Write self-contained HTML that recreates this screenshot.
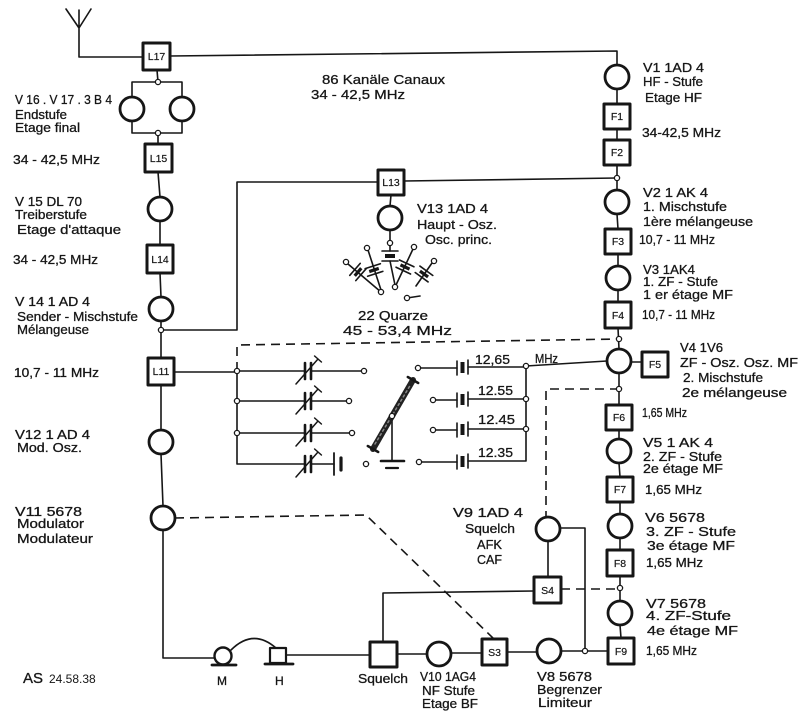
<!DOCTYPE html>
<html><head><meta charset="utf-8"><style>
html,body{margin:0;padding:0;background:#fff;}
svg{display:block;}
text{font-family:"Liberation Sans",sans-serif;fill:#161616;font-size:13px;stroke:#161616;stroke-width:0.3px;}
.b{font-size:10.5px;text-anchor:middle;stroke-width:0.2px;}
</style></head><body>
<svg width="800" height="715" viewBox="0 0 800 715" xmlns="http://www.w3.org/2000/svg">
<g fill="none" stroke="#161616" stroke-width="1.6" stroke-linecap="round" stroke-linejoin="round">
<!-- antenna -->
<path d="M66,9 L79,28 L91,9 M79,10 L79,57 L143,57"/>
<path d="M170,56 L617,51 L617,65"/>
<!-- final stage -->
<path d="M157,70 L158,82 M132,82 H182 M132,82 V97 M182,82 V97 M132,121 V133 H182 V121 M158,133 V144"/>
<path d="M158,172 L160,197 M160,221 V245 M160,273 L161,297 M161,321 V358 M161,330 H237 V182 H378 M404,181 L617,178"/>
<path d="M391,195 L390,206 M390,230 V241"/>
<path d="M161,385 V430 M161,454 L163,506 M163,530 V658 H214"/>
<path d="M174,372 H237"/>
<!-- trimmer bank -->
<path d="M237,371 V464 H305 M237,371 H305 M311,371 H362 M237,401 H305 M311,401 H347 M237,433 H305 M311,433 H350 M311,464 H334"/>
<!-- right column -->
<path d="M617,89 V104 M617,129 V140 M617,165 V190 M617,214 L618,229 M618,254 V266 M618,290 V302 M618,328 L619,349 M631,362 H642 M619,373 V405 M619,430 V439 M619,463 L620,477 M620,502 V514 M620,538 V550 M620,576 V601 M620,625 L621,638"/>
<!-- bottom chain -->
<path d="M287,655 L370,655 M397,654 H427 M451,653 H482 M507,652 H537 M561,651 H608 M560,528 H585 V651 M548,541 V577 M534,591 L383,593 V642"/>
<!-- crystal bank right -->
<path d="M420,368 H457 M468,367 H526 M435,400 H457 M468,399 H526 M435,430 H457 M468,429 H526 M421,462 H457 M468,461 H526 V366 M526,366 L607,361"/>
<path d="M392,418 V461"/>
<!-- dashed -->
<g stroke-dasharray="9 6" stroke-linecap="butt">
<path d="M237,371 V345 L619,339"/>
<path d="M619,389 H546 V516"/>
<path d="M561,589 H620"/>
<path d="M175,518 L366,515 L494,639"/>
</g>
<!-- trimmer capacitors -->
<g stroke-width="2.6">
<path d="M305,363 V379 M311,363 V379 M305,393 V409 M311,393 V409 M305,425 V441 M311,425 V441 M305,456 V472 M311,456 V472"/>
<path d="M341,458 V470" stroke-width="3.2"/>
</g>
<path d="M334,453 V475" stroke-width="1.8"/>
<g stroke-width="1.5">
<path d="M296,384 L318,359 M314.6,356 L321.4,362"/>
<path d="M296,414 L318,389 M314.6,386 L321.4,392"/>
<path d="M296,446 L318,421 M314.6,418 L321.4,424"/>
<path d="M296,477 L318,452 M314.6,449 L321.4,455"/>
</g>
<!-- right crystals -->
<g stroke-width="1.6">
<path d="M457,361 V375 M468,360 V374 M457,393 V407 M468,392 V406 M457,423 V437 M468,422 V436 M457,455 V469 M468,454 V468"/>
</g>
<g fill="#161616" stroke="none">
<rect x="460.5" y="362" width="4" height="11"/>
<rect x="460.5" y="394" width="4" height="11"/>
<rect x="460.5" y="424" width="4" height="11"/>
<rect x="460.5" y="456" width="4" height="11"/>
</g>
<!-- switch -->
<path d="M373,449 L413,380" stroke-width="6" stroke="#222"/>
<path d="M375,444 L411,384" stroke-width="1.5" stroke="#888" stroke-dasharray="2 3"/>
<path d="M367.8,446 L378.2,452 M407.8,377 L418.2,383" stroke-width="2.5"/>
<path d="M381,461 H404" stroke-width="2.6"/>
<path d="M386,468 H398" stroke-width="2.2"/>
<!-- V13 crystal fan -->
<path d="M390,245 V251 M390,261 L395,285"/>
<path d="M348,264 L381,292 M368,250 L381,290 M413,249 L396,285 M432,263 L416,286 M407,298 L420,296"/>
<g transform="translate(390,256)"><path d="M-8,-5 H8 M-8,5 H8"/><rect x="-5" y="-2" width="10" height="4" fill="#161616" stroke="none"/></g>
<g transform="translate(358,272) rotate(-49)"><path d="M-8,-4 H8 M-8,4 H8"/><rect x="-5" y="-1.6" width="10" height="3.2" fill="#161616" stroke="none"/></g>
<g transform="translate(374,270) rotate(-18)"><path d="M-8,-4 H8 M-8,4 H8"/><rect x="-5" y="-1.6" width="10" height="3.2" fill="#161616" stroke="none"/></g>
<g transform="translate(405,267) rotate(25)"><path d="M-8,-4 H8 M-8,4 H8"/><rect x="-5" y="-1.6" width="10" height="3.2" fill="#161616" stroke="none"/></g>
<g transform="translate(424,274) rotate(36)"><path d="M-8,-4 H8 M-8,4 H8"/><rect x="-5" y="-1.6" width="10" height="3.2" fill="#161616" stroke="none"/></g>
<!-- mic & headphone -->
<circle cx="223" cy="656" r="8.5" stroke-width="2.4" fill="#fff"/>
<path d="M212,665 H236" stroke-width="2.8"/>
<path d="M231,650 Q253,628 276,648"/>
<rect x="270" y="648" width="16" height="15" stroke-width="2.2" fill="#fff"/>
<path d="M265,664 H293" stroke-width="2.8"/>
<!-- tubes -->
<g stroke-width="2.8" fill="#fff">
<circle cx="132" cy="109" r="12"/><circle cx="182" cy="109" r="12"/>
<circle cx="160" cy="209" r="12"/><circle cx="161" cy="309" r="12"/>
<circle cx="161" cy="442" r="12"/><circle cx="163" cy="518" r="12"/>
<circle cx="390" cy="218" r="12"/>
<circle cx="617" cy="77" r="12"/><circle cx="617" cy="202" r="12"/>
<circle cx="618" cy="278" r="12"/><circle cx="619" cy="361" r="12"/>
<circle cx="619" cy="451" r="12"/><circle cx="620" cy="526" r="12"/>
<circle cx="620" cy="613" r="12"/>
<circle cx="439" cy="654" r="12"/><circle cx="549" cy="651" r="12"/>
<circle cx="548" cy="529" r="12"/>
</g>
<!-- boxes -->
<g stroke-width="3" fill="#fff">
<rect x="143" y="43" width="27" height="27"/>
<rect x="145" y="144" width="27" height="28"/>
<rect x="147" y="245" width="26" height="28"/>
<rect x="148" y="358" width="26" height="27"/>
<rect x="378" y="170" width="26" height="25"/>
<rect x="604" y="104" width="26" height="25"/>
<rect x="604" y="140" width="26" height="25"/>
<rect x="605" y="229" width="26" height="25"/>
<rect x="605" y="302" width="26" height="26"/>
<rect x="642" y="352" width="26" height="25"/>
<rect x="606" y="405" width="26" height="25"/>
<rect x="607" y="477" width="26" height="25"/>
<rect x="607" y="550" width="26" height="26"/>
<rect x="608" y="638" width="26" height="26"/>
<rect x="482" y="639" width="25" height="26"/>
<rect x="534" y="577" width="27" height="26"/>
<rect x="370" y="642" width="27" height="25"/>
</g>
<!-- junctions / terminals -->
<g stroke-width="1.3" fill="#fff">
<circle cx="158" cy="82" r="2.6"/><circle cx="158" cy="133" r="2.6"/>
<circle cx="161" cy="330" r="2.6"/><circle cx="617" cy="178" r="2.6"/>
<circle cx="237" cy="371" r="2.6"/><circle cx="237" cy="401" r="2.6"/><circle cx="237" cy="433" r="2.6"/>
<circle cx="619" cy="339" r="2.6"/><circle cx="619" cy="389" r="2.6"/><circle cx="620" cy="588" r="2.6"/>
<circle cx="585" cy="651" r="2.6"/>
<circle cx="526" cy="366" r="2.6"/><circle cx="526" cy="399" r="2.6"/><circle cx="526" cy="429" r="2.6"/>
<circle cx="364" cy="371" r="2.6"/><circle cx="349" cy="401" r="2.6"/><circle cx="352" cy="433" r="2.6"/><circle cx="366" cy="464" r="2.6"/>
<circle cx="418" cy="368" r="2.6"/><circle cx="433" cy="400" r="2.6"/><circle cx="433" cy="430" r="2.6"/><circle cx="419" cy="462" r="2.6"/>
<circle cx="392" cy="416" r="2.6"/>
<circle cx="390" cy="243" r="2.6"/><circle cx="346" cy="262" r="2.6"/><circle cx="367" cy="248" r="2.6"/>
<circle cx="414" cy="247" r="2.6"/><circle cx="434" cy="261" r="2.6"/>
<circle cx="381" cy="292" r="2.6"/><circle cx="395" cy="287" r="2.6"/><circle cx="407" cy="298" r="2.6"/>
</g>
</g>

<!-- box labels -->
<text class="b" x="156.5" y="60">L17</text>
<text class="b" x="158.5" y="162">L15</text>
<text class="b" x="160" y="263">L14</text>
<text class="b" x="161" y="375">L11</text>
<text class="b" x="391" y="186">L13</text>
<text class="b" x="617" y="120">F1</text>
<text class="b" x="617" y="156">F2</text>
<text class="b" x="618" y="245">F3</text>
<text class="b" x="618" y="319">F4</text>
<text class="b" x="655" y="368">F5</text>
<text class="b" x="619" y="421">F6</text>
<text class="b" x="620" y="493">F7</text>
<text class="b" x="620" y="567">F8</text>
<text class="b" x="621" y="655">F9</text>
<text class="b" x="494.5" y="656">S3</text>
<text class="b" x="547.5" y="594">S4</text>

<!-- left labels -->
<text x="15" y="104" textLength="97" lengthAdjust="spacingAndGlyphs">V 16 . V 17 . 3 B 4</text>
<text x="15" y="119" textLength="52" lengthAdjust="spacingAndGlyphs">Endstufe</text>
<text x="15" y="132" textLength="65" lengthAdjust="spacingAndGlyphs">Etage final</text>
<text x="13" y="164" textLength="87" lengthAdjust="spacingAndGlyphs">34 - 42,5 MHz</text>
<text x="15" y="206" textLength="67" lengthAdjust="spacingAndGlyphs">V 15 DL 70</text>
<text x="15" y="219" textLength="72" lengthAdjust="spacingAndGlyphs">Treiberstufe</text>
<text x="17" y="234" textLength="104" lengthAdjust="spacingAndGlyphs">Etage d'attaque</text>
<text x="13" y="264" textLength="85" lengthAdjust="spacingAndGlyphs">34 - 42,5 MHz</text>
<text x="15" y="306" textLength="75" lengthAdjust="spacingAndGlyphs">V 14  1 AD 4</text>
<text x="17" y="321" textLength="121" lengthAdjust="spacingAndGlyphs">Sender - Mischstufe</text>
<text x="17" y="334" textLength="72" lengthAdjust="spacingAndGlyphs">Mélangeuse</text>
<text x="14" y="377" textLength="85" lengthAdjust="spacingAndGlyphs">10,7 - 11  MHz</text>
<text x="15" y="439" textLength="75" lengthAdjust="spacingAndGlyphs">V12  1 AD 4</text>
<text x="17" y="452" textLength="65" lengthAdjust="spacingAndGlyphs">Mod. Osz.</text>
<text x="15" y="516" textLength="67" lengthAdjust="spacingAndGlyphs">V11  5678</text>
<text x="17" y="528" textLength="67" lengthAdjust="spacingAndGlyphs">Modulator</text>
<text x="17" y="543" textLength="76" lengthAdjust="spacingAndGlyphs">Modulateur</text>
<text x="23" y="683" style="font-size:15px">AS</text>
<text x="49" y="683" style="font-size:12px;stroke-width:0">24.58.38</text>

<!-- bottom labels -->
<text x="217" y="685" style="font-size:12px">M</text>
<text x="275" y="685" style="font-size:12px">H</text>
<text x="358" y="683" textLength="50" lengthAdjust="spacingAndGlyphs">Squelch</text>
<text x="420" y="681" textLength="56" lengthAdjust="spacingAndGlyphs">V10 1AG4</text>
<text x="422" y="695" textLength="53" lengthAdjust="spacingAndGlyphs">NF Stufe</text>
<text x="422" y="708" textLength="56" lengthAdjust="spacingAndGlyphs">Etage BF</text>
<text x="537" y="681" textLength="55" lengthAdjust="spacingAndGlyphs">V8 5678</text>
<text x="537" y="694" textLength="65" lengthAdjust="spacingAndGlyphs">Begrenzer</text>
<text x="538" y="707" textLength="54" lengthAdjust="spacingAndGlyphs">Limiteur</text>
<text x="453" y="517" textLength="70" lengthAdjust="spacingAndGlyphs">V9 1AD 4</text>
<text x="465" y="533" textLength="50" lengthAdjust="spacingAndGlyphs">Squelch</text>
<text x="477" y="549" textLength="25" lengthAdjust="spacingAndGlyphs">AFK</text>
<text x="477" y="564" textLength="25" lengthAdjust="spacingAndGlyphs">CAF</text>

<!-- center labels -->
<text x="322" y="84" textLength="123" lengthAdjust="spacingAndGlyphs">86 Kanäle Canaux</text>
<text x="311" y="99" textLength="94" lengthAdjust="spacingAndGlyphs">34 - 42,5 MHz</text>
<text x="417" y="213" textLength="71" lengthAdjust="spacingAndGlyphs">V13  1AD 4</text>
<text x="417" y="229" textLength="80" lengthAdjust="spacingAndGlyphs">Haupt - Osz.</text>
<text x="425" y="244" textLength="67" lengthAdjust="spacingAndGlyphs">Osc. princ.</text>
<text x="358" y="320" textLength="70" lengthAdjust="spacingAndGlyphs">22 Quarze</text>
<text x="343" y="335" textLength="109" lengthAdjust="spacingAndGlyphs">45 - 53,4   MHz</text>
<text x="475" y="364" textLength="35" lengthAdjust="spacingAndGlyphs">12,65</text>
<text x="535" y="363" textLength="23" lengthAdjust="spacingAndGlyphs">MHz</text>
<text x="478" y="395" textLength="35" lengthAdjust="spacingAndGlyphs">12.55</text>
<text x="478" y="424" textLength="37" lengthAdjust="spacingAndGlyphs">12.45</text>
<text x="478" y="457" textLength="35" lengthAdjust="spacingAndGlyphs">12.35</text>

<!-- right labels -->
<text x="643" y="72" textLength="61" lengthAdjust="spacingAndGlyphs">V1  1AD 4</text>
<text x="643" y="86" textLength="60" lengthAdjust="spacingAndGlyphs">HF - Stufe</text>
<text x="645" y="102" textLength="57" lengthAdjust="spacingAndGlyphs">Etage HF</text>
<text x="642" y="137" textLength="79" lengthAdjust="spacingAndGlyphs">34-42,5 MHz</text>
<text x="643" y="197" textLength="65" lengthAdjust="spacingAndGlyphs">V2  1 AK 4</text>
<text x="643" y="211" textLength="84" lengthAdjust="spacingAndGlyphs">1. Mischstufe</text>
<text x="643" y="226" textLength="110" lengthAdjust="spacingAndGlyphs">1ère mélangeuse</text>
<text x="639" y="244" textLength="76" lengthAdjust="spacingAndGlyphs">10,7 - 11 MHz</text>
<text x="643" y="274" textLength="52" lengthAdjust="spacingAndGlyphs">V3 1AK4</text>
<text x="643" y="286" textLength="75" lengthAdjust="spacingAndGlyphs">1. ZF - Stufe</text>
<text x="643" y="299" textLength="90" lengthAdjust="spacingAndGlyphs">1 er étage  MF</text>
<text x="642" y="319" textLength="73" lengthAdjust="spacingAndGlyphs">10,7 - 11 MHz</text>
<text x="680" y="352" textLength="43" lengthAdjust="spacingAndGlyphs">V4 1V6</text>
<text x="680" y="367" textLength="118" lengthAdjust="spacingAndGlyphs">ZF - Osz.  Osz. MF</text>
<text x="683" y="382" textLength="80" lengthAdjust="spacingAndGlyphs">2. Mischstufe</text>
<text x="682" y="397" textLength="105" lengthAdjust="spacingAndGlyphs">2e mélangeuse</text>
<text x="642" y="417" textLength="45" lengthAdjust="spacingAndGlyphs">1,65 MHz</text>
<text x="643" y="447" textLength="70" lengthAdjust="spacingAndGlyphs">V5  1 AK 4</text>
<text x="643" y="461" textLength="79" lengthAdjust="spacingAndGlyphs">2. ZF - Stufe</text>
<text x="643" y="473" textLength="80" lengthAdjust="spacingAndGlyphs">2e étage MF</text>
<text x="645" y="494" textLength="57" lengthAdjust="spacingAndGlyphs">1,65 MHz</text>
<text x="645" y="522" textLength="60" lengthAdjust="spacingAndGlyphs">V6  5678</text>
<text x="646" y="536" textLength="90" lengthAdjust="spacingAndGlyphs">3. ZF - Stufe</text>
<text x="647" y="550" textLength="88" lengthAdjust="spacingAndGlyphs">3e étage MF</text>
<text x="646" y="567" textLength="57" lengthAdjust="spacingAndGlyphs">1,65 MHz</text>
<text x="646" y="608" textLength="60" lengthAdjust="spacingAndGlyphs">V7  5678</text>
<text x="646" y="620" textLength="85" lengthAdjust="spacingAndGlyphs">4. ZF-Stufe</text>
<text x="647" y="635" textLength="91" lengthAdjust="spacingAndGlyphs">4e étage MF</text>
<text x="646" y="655" textLength="51" lengthAdjust="spacingAndGlyphs">1,65 MHz</text>
</svg>
</body></html>
